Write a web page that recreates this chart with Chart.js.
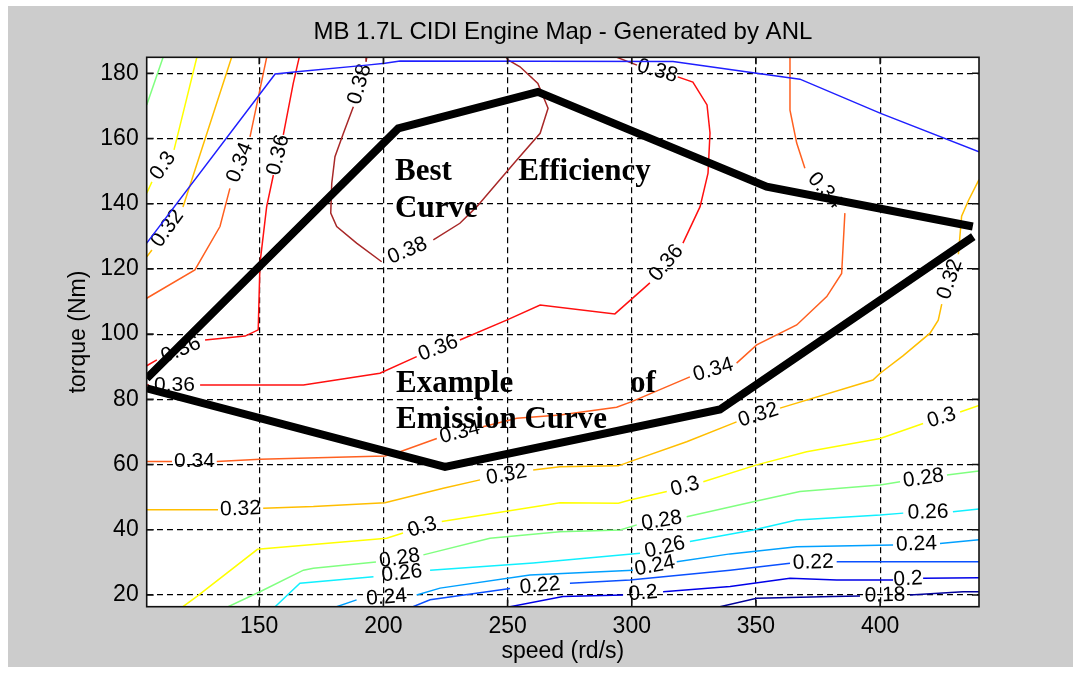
<!DOCTYPE html>
<html>
<head>
<meta charset="utf-8">
<script src="https://cdn.jsdelivr.net/npm/chart.js@4.4.1/dist/chart.umd.min.js"></script>
<style>
  html, body { margin: 0; padding: 0; background: #fff; }
</style>
</head>
<body>
<canvas id="map" width="1073" height="673"></canvas>
<script>
const xTicks = [150, 200, 250, 300, 350, 400];
const yTicks = [20, 40, 60, 80, 100, 120, 140, 160, 180];

// efficiency contours as [speed rd/s, torque Nm]; a null opens the gap where the level label goes
const eff18 = [[335.5,16.4],[350.3,19.0],[381.0,19.5],[391.9,19.7],null,[412.0,20.0],[433.4,21.0],[439.8,21.0]];
const eff20 = [[251.0,16.4],[272.3,19.5],[296.5,20.0],null,[312.6,21.0],[339.6,22.6],[363.7,25.1],[382.5,24.6],[405.2,24.6],null,[417.3,25.1],[439.8,25.3]];
const eff22 = [[211.9,16.4],[218.8,18.5],[251.0,22.0],null,[275.1,23.6],[299.3,24.6],[339.6,27.6],[363.7,29.7],null,[382.5,30.2],[439.8,30.2]];
const eff24 = [[181.2,16.4],[189.2,18.5],null,[213.4,20.0],[222.8,22.1],[259.0,26.1],[300.5,27.6],null,[318.1,30.2],[339.6,32.6],[366.4,34.8],[405.2,35.3],null,[424.1,35.8],[439.8,36.9]];
const eff26 = [[156.4,16.4],[166.4,23.6],[196.0,25.6],null,[218.8,27.6],[260.3,29.8],[303.3,32.8],null,[323.4,36.4],[348.9,39.9],[366.4,43.0],[400.0,44.5],[409.3,45.1],null,[429.3,45.5],[439.8,46.4]];
const eff28Low = [[137.5,16.4],[150.3,21.0],[167.8,27.6],[171.8,28.2],[197.0,30.1],null,[216.1,32.3],[242.9,37.4],[271.1,39.4],[295.3,39.9],[302.0,41.5],null,[322.1,44.0],[348.9,48.6],[367.7,51.7],[400.0,53.7],[408.0,54.7],null,[426.9,56.8],[439.8,58.0]];
const eff28Corner = [[104.7,170.3],[111.3,184.9]];
const eff30Low = [[119.3,16.4],[124.8,19.5],[149.3,34.0],[201.3,37.4],[207.9,39.0],null,[223.5,42.5],[271.1,48.3],[294.6,48.1],[299.3,49.1],[314.1,51.7],null,[328.8,54.7],[350.3,59.9],[370.4,63.9],[400.0,68.0],[417.3,72.6],null,[432.2,76.1],[439.8,78.1]];
const eff30Corner = [[104.7,143.2],[106.8,146.7],null,[115.7,156.5],[124.9,184.9]];
const eff32Low = [[104.7,46.1],[133.4,46.1],null,[151.6,46.6],[171.8,47.1],[200.6,48.3],[224.1,52.7],[238.9,55.3],null,[260.3,58.3],[271.1,59.3],[294.6,59.6],[299.3,60.9],[322.1,67.0],[342.2,73.1],null,[359.7,77.3],[397.1,85.9],[400.0,88.0],[409.3,93.4],[420.1,100.3],[423.4,104.3],[424.8,109.2],null,[431.5,124.5],[432.8,136.2],[435.5,140.9],[439.8,147.4]];
const eff32Corner = [[104.7,123.7],[106.8,125.8],null,[119.3,139.0],[138.9,184.9]];
const eff34Low = [[104.7,60.9],[114.9,60.9],null,[132.9,60.9],[150.3,61.6],[200.6,62.6],[206.7,63.9],[221.5,68.0],null,[240.1,71.6],[253.7,74.2],[271.1,75.2],[293.9,77.6],[300.0,79.3],[323.4,86.9],null,[342.2,91.1],[350.3,96.7],[366.4,102.8],[378.5,111.5],[384.5,118.6],[385.8,137.1],null,[369.7,150.9],[366.4,158.6],[363.7,168.7],[363.7,184.9]];
const eff34Corner = [[104.7,111.0],[124.1,119.7],[134.2,133.0],[138.2,144.7],null,[146.3,160.5],[153.0,184.9]];
const eff36Loop = [[104.7,84.4],[105.6,84.4],null,[126.2,84.4],[167.8,84.4],[198.6,88.0],[213.4,93.1],null,[230.8,98.2],[249.6,104.3],[263.1,108.9],[293.2,106.2],[307.3,115.7],null,[320.6,127.9],[327.5,139.1],[330.7,149.4],[331.5,161.7],[330.3,170.3],[324.6,177.3],[318.5,178.9]];
const eff36Left = [[166.1,184.9],[163.7,176.9],[159.7,161.1],null,[155.7,148.8],[153.0,139.1],[150.3,121.7],[149.6,101.3],[144.3,99.4],[128.2,98.2],null,[108.8,92.1],[104.7,90.3]];
const eff38Loop = [[193.3,184.9],[193.0,183.5],null,[187.9,169.7],[183.9,161.6],[180.5,154.4],[179.2,146.2],[178.8,137.1],[181.2,133.0],[189.2,127.9],[199.3,122.2],null,[220.1,128.9],[230.8,134.0],[237.6,139.1],[245.6,146.2],[253.7,153.4],[263.1,161.6],[266.3,169.3],[262.2,176.9],[255.0,182.0],[250.2,184.1],[249.4,184.9]];
const eff38Top = [[294.0,184.9],[302.1,182.5],null,[318.5,178.9]];

const maxTorque = [[104.7,127.9],[156.4,179.8],[165.1,180.5],[193.3,182.5],[200.6,183.1],[206.7,183.8],[316.6,183.6],[350.3,180.0],[367.7,178.2],[400.2,167.7],[439.8,155.9]];
const bestEffCurve = [[104.7,86.4],[206.0,163.1],[262.2,174.3],[354.3,145.2],[437.3,133.0]];
const emissionCurve = [[104.7,83.4],[224.8,59.3],[335.5,76.9],[437.5,129.9]];

// annotation words: text, speed, torque (baseline, left aligned)
const notes = [
  ["Best", 204.7, 147.3], ["Efficiency", 254.3, 147.3], ["Curve", 204.7, 136.0],
  ["Example", 205.1, 82.3], ["of", 299.3, 82.3], ["Emission Curve", 205.1, 71.1]
];

const contourPieces = [
  { level: 0.18, points: eff18 }, { level: 0.2, points: eff20 },
  { level: 0.22, points: eff22 }, { level: 0.24, points: eff24 },
  { level: 0.26, points: eff26 },
  { level: 0.28, points: eff28Low }, { level: 0.28, points: eff28Corner },
  { level: 0.3, points: eff30Low }, { level: 0.3, points: eff30Corner },
  { level: 0.32, points: eff32Low }, { level: 0.32, points: eff32Corner },
  { level: 0.34, points: eff34Low }, { level: 0.34, points: eff34Corner },
  { level: 0.36, points: eff36Loop }, { level: 0.36, points: eff36Left },
  { level: 0.38, points: eff38Loop }, { level: 0.38, points: eff38Top }
];

// jet-like colours per level
const levelColor = {
  0.18: "#00009a", 0.2: "#0000e8", 0.22: "#0a50ff", 0.24: "#00a0ff",
  0.26: "#10f0ff", 0.28: "#80ff80", 0.3: "#ffff00", 0.32: "#ffbe00",
  0.34: "#ff6020", 0.36: "#ff1010", 0.38: "#a82828"
};

const SANS = '"Liberation Sans", Arial, sans-serif';
const SERIF = '"Liberation Serif", "Times New Roman", serif';

const toXY = pts => pts.map(p => p ? { x: p[0], y: p[1] } : { x: null, y: null });

const datasets = contourPieces.map(p => ({
  data: toXY(p.points),
  borderColor: levelColor[p.level],
  borderWidth: 1.5,
  order: 2
}));
datasets.push({ data: toXY(maxTorque), borderColor: "#1f1fff", borderWidth: 1.5, order: 1 });
datasets.push({ data: toXY(bestEffCurve), borderColor: "#000", borderWidth: 8, order: 0 });
datasets.push({ data: toXY(emissionCurve), borderColor: "#000", borderWidth: 8, order: 0 });
datasets.forEach(d => Object.assign(d, {
  showLine: true, pointRadius: 0, fill: false, tension: 0, spanGaps: false,
  borderCapStyle: "butt", borderJoinStyle: "miter"
}));

function drawLevelLabels(chart, piece) {
  const { ctx, scales: { x, y } } = chart;
  const pts = piece.points;
  for (let i = 1; i < pts.length - 1; i++) {
    if (pts[i] !== null) continue;
    const x1 = x.getPixelForValue(pts[i - 1][0]), y1 = y.getPixelForValue(pts[i - 1][1]);
    const x2 = x.getPixelForValue(pts[i + 1][0]), y2 = y.getPixelForValue(pts[i + 1][1]);
    let ang = Math.atan2(y2 - y1, x2 - x1);
    if (ang > Math.PI / 2) ang -= Math.PI;
    if (ang < -Math.PI / 2) ang += Math.PI;
    ctx.save();
    ctx.translate((x1 + x2) / 2, (y1 + y2) / 2);
    ctx.rotate(ang);
    ctx.font = "21px " + SANS;
    ctx.fillStyle = "#000";
    ctx.textAlign = "center";
    ctx.textBaseline = "middle";
    ctx.fillText(String(piece.level), 0, 0);
    ctx.restore();
  }
}

const mapDecor = {
  id: "mapDecor",
  beforeDraw(chart) {
    const { ctx, chartArea: a } = chart;
    ctx.save();
    ctx.fillStyle = "#cccccc";
    ctx.fillRect(8, 6, chart.width - 8, 661);
    ctx.fillStyle = "#ffffff";
    ctx.fillRect(a.left, a.top, a.right - a.left, a.bottom - a.top);
    ctx.restore();
  },
  afterDatasetDraw(chart, args) {
    const piece = contourPieces[args.index];
    if (piece) drawLevelLabels(chart, piece);
  },
  afterDatasetsDraw(chart) {
    const { ctx, chartArea: a, scales: { x, y } } = chart;
    ctx.save();
    // axes box with inward ticks
    ctx.strokeStyle = "#111";
    ctx.lineWidth = 1.6;
    ctx.strokeRect(a.left, a.top, a.right - a.left, a.bottom - a.top);
    ctx.beginPath();
    xTicks.forEach(v => {
      const px = x.getPixelForValue(v);
      ctx.moveTo(px, a.bottom); ctx.lineTo(px, a.bottom - 7);
      ctx.moveTo(px, a.top); ctx.lineTo(px, a.top + 7);
    });
    yTicks.forEach(v => {
      const py = y.getPixelForValue(v);
      ctx.moveTo(a.left, py); ctx.lineTo(a.left + 7, py);
      ctx.moveTo(a.right, py); ctx.lineTo(a.right - 7, py);
    });
    ctx.stroke();

    // title
    ctx.fillStyle = "#000";
    ctx.font = "24px " + SANS;
    ctx.textAlign = "center";
    ctx.textBaseline = "middle";
    ctx.fillText("MB 1.7L CIDI Engine Map - Generated by ANL", (a.left + a.right) / 2, 32);

    // curve annotations
    ctx.font = "bold 31px " + SERIF;
    ctx.textAlign = "left";
    ctx.textBaseline = "alphabetic";
    notes.forEach(([t, sx, ty]) => ctx.fillText(t, x.getPixelForValue(sx), y.getPixelForValue(ty)));
    ctx.restore();
  }
};

new Chart(document.getElementById("map"), {
  type: "scatter",
  data: { datasets },
  plugins: [mapDecor],
  options: {
    responsive: false,
    animation: false,
    layout: { padding: { left: 8, top: 57.3, right: 94, bottom: 0 } },
    plugins: { legend: { display: false }, tooltip: { enabled: false }, title: { display: false } },
    scales: {
      x: {
        type: "linear", min: 104.7, max: 439.8,
        afterBuildTicks: s => { s.ticks = xTicks.map(v => ({ value: v })); },
        afterFit: s => { s.height = 66.3; },
        grid: { color: "#000", lineWidth: 1.2, drawTicks: false },
        border: { display: false, dash: [6, 4] },
        ticks: { color: "#000", font: { family: SANS, size: 23 }, padding: 6, maxRotation: 0, autoSkip: false },
        title: { display: true, text: "speed (rd/s)", color: "#000", font: { family: SANS, size: 23 }, padding: { top: 0, bottom: 7.2 } }
      },
      y: {
        type: "linear", min: 16.4, max: 184.9,
        afterBuildTicks: s => { s.ticks = yTicks.map(v => ({ value: v })); },
        afterFit: s => { s.width = 138.7; },
        grid: { color: "#000", lineWidth: 1.2, drawTicks: false },
        border: { display: false, dash: [6, 4] },
        ticks: { color: "#000", font: { family: SANS, size: 23 }, padding: 8, autoSkip: false },
        title: { display: true, text: "torque (Nm)", color: "#000", font: { family: SANS, size: 23 }, padding: { top: 57, bottom: 0 } }
      }
    }
  }
});
</script>
</body>
</html>
